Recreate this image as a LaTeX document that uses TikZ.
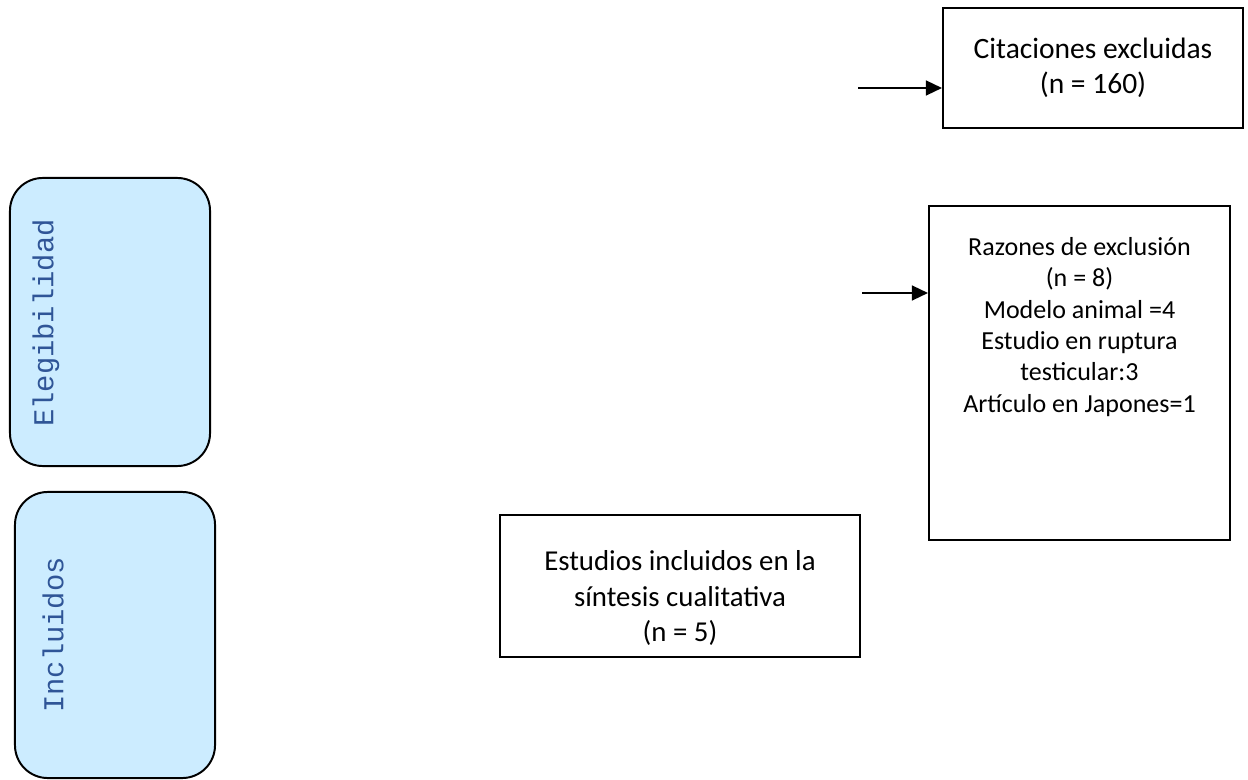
\documentclass[tikz,border=0pt]{standalone}
\usepackage{fontspec}
\setmainfont{Carlito}
\newfontfamily\monofont{Liberation Mono}
\usetikzlibrary{arrows.meta}
\definecolor{fasefill}{HTML}{CCECFF}
\definecolor{fasetext}{HTML}{2F5597}
\begin{document}
\begin{tikzpicture}[x=0.025cm,y=-0.025cm,
  caja/.style={draw,line width=1.4pt,inner sep=0pt,align=center},
  texto/.style={align=center,inner sep=0pt,font=\fontsize{18.5}{22.3}\selectfont},
  fase/.style={draw,line width=1.4pt,fill=fasefill,rounded corners=0.82cm,inner sep=0pt},
  fasetxt/.style={rotate=90,inner sep=0pt,text=fasetext,font=\monofont\fontsize{20.5}{24}\selectfont},
  flecha/.style={-{Triangle[length=0.4cm,width=0.37cm]},line width=1.4pt}]
\useasboundingbox (0,0) rectangle (1248,780);
% fases
\node[fase,minimum width=5cm,minimum height=7.2cm] (eleg) at (110,322) {};
\node[fasetxt] (elegtxt) at (46,323) {Elegibilidad};
\node[fase,minimum width=5cm,minimum height=7.15cm] (incl) at (115,635) {};
\node[fasetxt] (incltxt) at (53,635) {Incluidos};
% cajas
\node[caja,minimum width=7.5cm,minimum height=3cm,font=\fontsize{21}{25}\selectfont] (citas) at (1093,68)
  {Citaciones excluidas\\(n = 160)};
\node[caja,minimum width=7.525cm,minimum height=8.35cm] (razones) at (1079.5,373) {};
\node[texto,anchor=north] (razonestxt) at (1079.5,237)
  {Razones de exclusión\\(n = 8)\\Modelo animal =4\\Estudio en ruptura\\testicular:3\\Artículo en Japones=1};
\node[caja,minimum width=9cm,minimum height=3.55cm] (estudios) at (680,586) {};
\node[texto,font=\fontsize{20.5}{25}\selectfont] (estudiostxt) at (680,598)
  {Estudios incluidos en la\\síntesis cualitativa\\(n = 5)};
% flechas
\coordinate (c1) at (858,88);
\coordinate (c2) at (862,293);
\draw[flecha] (c1) -- (c1 -| citas.west);
\draw[flecha] (c2) -- (c2 -| razones.west);
\end{tikzpicture}
\end{document}
